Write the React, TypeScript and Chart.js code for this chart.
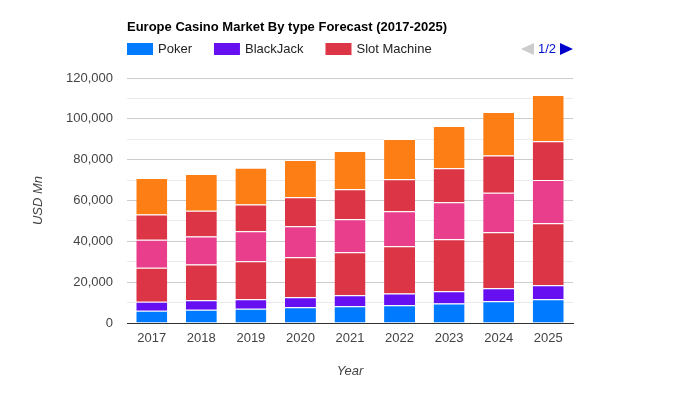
import React, { useEffect, useRef } from 'react';
import { Chart, registerables } from 'chart.js';

Chart.register(...registerables);

const chartTitle = 'Europe Casino Market By type Forecast (2017-2025)';
const years = ['2017', '2018', '2019', '2020', '2021', '2022', '2023', '2024', '2025'];
const seriesNames = ['Poker', 'BlackJack', 'Slot Machine', 'Roulette', 'Baccarat', 'Others'];
const seriesColors = ['#007bff', '#6610f2', '#dc3545', '#e83e8c', '#dc3545', '#fd7e14'];
const poker = [6000, 6500, 7000, 7700, 8200, 8700, 9600, 10600, 11600];
const blackjack = [4400, 4600, 4600, 4900, 5400, 5800, 5900, 6400, 6900];
const slotMachine = [16700, 17600, 18600, 19600, 21000, 23100, 25500, 27400, 30300];
const roulette = [13700, 13700, 14700, 15200, 16200, 17100, 18100, 19400, 21200];
const baccarat = [12300, 12600, 13200, 14200, 14700, 15700, 16700, 18200, 19000];
const others = [17900, 18000, 18000, 18200, 18700, 19700, 20700, 21300, 22700];
const seriesValues = [poker, blackjack, slotMachine, roulette, baccarat, others];
const legendPage = '1/2';
const legendItemsShown = 3;

const FONT = 'Arial, "Liberation Sans", sans-serif';

const headerPlugin = {
  id: 'header',
  afterDraw(chart: any) {
    const ctx = chart.ctx as CanvasRenderingContext2D;
    const left = chart.chartArea.left;
    const right = chart.chartArea.right;
    ctx.save();
    ctx.textBaseline = 'middle';
    ctx.textAlign = 'left';
    ctx.font = `bold 13px ${FONT}`;
    ctx.fillStyle = '#000';
    ctx.fillText(chartTitle, left, 27);

    ctx.font = `13px ${FONT}`;
    let x = left;
    const y = 49;
    chart.data.datasets.slice(0, legendItemsShown).forEach((ds: any) => {
      ctx.fillStyle = ds.backgroundColor;
      ctx.fillRect(x, y - 6, 26, 12);
      ctx.fillStyle = '#222';
      ctx.fillText(ds.label, x + 31, y);
      x += 31 + ctx.measureText(ds.label).width + 22;
    });

    // pager
    const rEnd = right;
    ctx.fillStyle = '#0000cc';
    ctx.beginPath();
    ctx.moveTo(rEnd - 13, y - 6);
    ctx.lineTo(rEnd, y);
    ctx.lineTo(rEnd - 13, y + 6);
    ctx.closePath();
    ctx.fill();
    const tw = ctx.measureText(legendPage).width;
    ctx.fillStyle = '#0011cc';
    ctx.fillText(legendPage, rEnd - 17 - tw, y);
    const lEnd = rEnd - 21 - tw;
    ctx.fillStyle = '#cccccc';
    ctx.beginPath();
    ctx.moveTo(lEnd, y - 6);
    ctx.lineTo(lEnd - 13, y);
    ctx.lineTo(lEnd, y + 6);
    ctx.closePath();
    ctx.fill();
    ctx.restore();
  },
};

export default function App() {
  const ref = useRef<HTMLCanvasElement | null>(null);
  useEffect(() => {
    if (!ref.current) return;
    const chart = new Chart(ref.current, {
      type: 'bar',
      data: {
        labels: years,
        datasets: seriesNames.map((name, i) => ({
          label: name,
          data: seriesValues[i],
          backgroundColor: seriesColors[i],
          borderColor: '#ffffff',
          borderWidth: { top: 1, bottom: 0, left: 0, right: 0 },
          borderSkipped: false,
          categoryPercentage: 1,
          barPercentage: 0.625,
        })),
      },
      options: {
        responsive: false,
        animation: false,
        devicePixelRatio: 1,
        layout: { padding: { top: 78, right: 127, bottom: 0, left: 0 } },
        plugins: {
          legend: { display: false },
          title: { display: false },
          tooltip: { enabled: false },
        },
        scales: {
          x: {
            stacked: true,
            grid: { display: false },
            border: { display: true, color: '#333333', width: 1 },
            ticks: { color: '#444', font: { family: FONT, size: 13 }, padding: 0 },
            title: {
              display: true,
              text: 'Year',
              color: '#444',
              font: { family: FONT, size: 13, style: 'italic' },
              padding: { top: 0, bottom: 21 },
            },
            afterFit: (s: any) => {
              s.height = 77;
            },
          },
          y: {
            stacked: true,
            min: 0,
            max: 120000,
            border: { display: false },
            grid: {
              drawTicks: false,
              color: (c: any) =>
                c.tick && c.tick.value === 0
                  ? 'rgba(0,0,0,0)'
                  : c.tick && c.tick.value % 20000 === 0
                  ? '#cccccc'
                  : '#ebebeb',
            },
            ticks: {
              stepSize: 10000,
              autoSkip: false,
              color: '#444',
              font: { family: FONT, size: 13 },
              padding: 14,
              callback: (v: any) => (Number(v) % 20000 === 0 ? Number(v).toLocaleString('en-US') : ''),
            },
            title: {
              display: true,
              text: 'USD Mn',
              color: '#444',
              font: { family: FONT, size: 13, style: 'italic' },
              padding: { top: 31, bottom: 0 },
            },
            afterFit: (s: any) => {
              s.width = 127;
            },
          },
        },
      },
      plugins: [headerPlugin],
    } as any);
    return () => chart.destroy();
  }, []);
  return (
    <div style={{ position: 'absolute', left: 0, top: 0, width: 700, height: 400, background: '#fff' }}>
      <canvas ref={ref} width={700} height={400} />
    </div>
  );
}
